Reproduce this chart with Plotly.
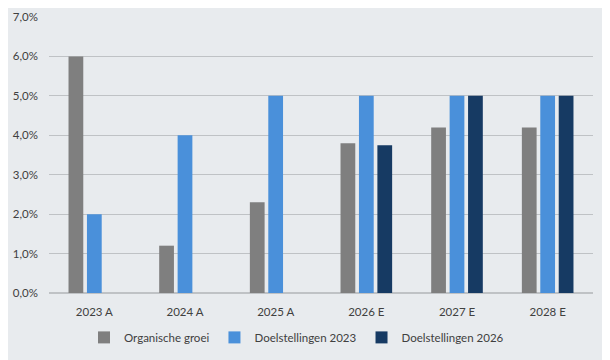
import plotly.graph_objects as go

categories = ["2023 A", "2024 A", "2025 A", "2026 E", "2027 E", "2028 E"]
organische_groei = [6.0, 1.2, 2.3, 3.8, 4.2, 4.2]
doel_2023 = [2.0, 4.0, 5.0, 5.0, 5.0, 5.0]
doel_2026 = [None, None, None, 3.75, 5.0, 5.0]

series_names = ["Organische groei", "Doelstellingen 2023", "Doelstellingen 2026"]
colors = ["#7F7F7F", "#4A90DA", "#163A63"]

fig = go.Figure()
for name, vals, col in zip(series_names, [organische_groei, doel_2023, doel_2026], colors):
    fig.add_trace(go.Bar(x=categories, y=vals, name=name, marker_color=col,
                         marker_line_width=0))

fig.update_layout(
    width=610, height=360,
    barmode="group", bargap=0.39, bargroupgap=0.2,
    paper_bgcolor="#E8EBEE", plot_bgcolor="#E8EBEE",
    margin=dict(l=41, r=25, t=9, b=75, autoexpand=False),
    separators=",.",
    font=dict(family="Lato, sans-serif", size=11, color="#404040"),
    showlegend=True,
    legend=dict(orientation="h", x=0.455, xanchor="center", yref="container",
                y=0.085, yanchor="middle",
                font=dict(size=11.5, color="#404040"), itemwidth=30,
                bgcolor="rgba(0,0,0,0)"),
    xaxis=dict(showgrid=False, ticks="", showline=False, automargin=False,
               ticklabelstandoff=10, tickfont=dict(size=11.5)),
    yaxis=dict(range=[0, 7], dtick=1, tickformat=".1f", ticksuffix="%",
               showgrid=True, gridcolor="#BFC2C5", gridwidth=1, zeroline=True,
               zerolinecolor="#BFC2C5", showline=False, ticks="", automargin=False,
               ticklabelstandoff=10, tickfont=dict(size=11.5)),
)

fig.write_html("out.html")
